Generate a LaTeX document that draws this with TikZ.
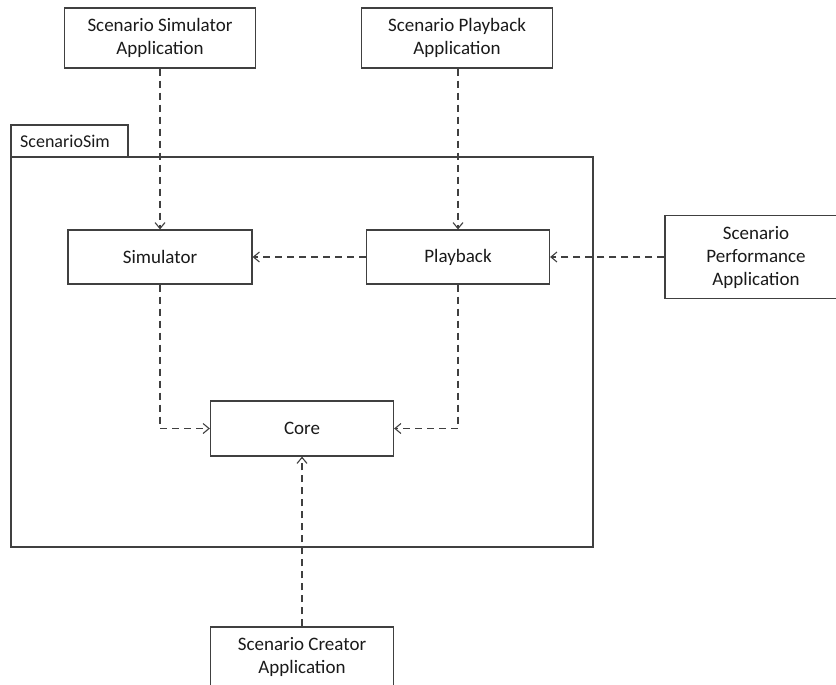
\documentclass[tikz,border=0pt]{standalone}
\usepackage{fontspec}
\setmainfont{Carlito}
\usetikzlibrary{arrows.meta}
\definecolor{edge}{HTML}{404040}
\definecolor{ink}{HTML}{1A1A1A}
\tikzset{
  box/.style={draw=edge, line width=1.2pt, fill=white, align=center,
    inner sep=0pt, text=ink, font=\fontsize{19}{23}\selectfont},
  dep/.style={draw=edge, line width=1.3pt, dash pattern=on 7pt off 5pt,
    -{Straight Barb[length=6pt,width=10pt,line width=1.1pt]}},
  frame/.style={draw=edge, line width=1.2pt}
}
\begin{document}
\begin{tikzpicture}[x=1pt,y=-1pt]
\useasboundingbox (0,0) rectangle (836,685);
\clip (0,0) rectangle (836,685);

% package ScenarioSim
\draw[frame] (11,157) rectangle (593,547);
\draw[frame] (11,157) rectangle (128,125);
\node[anchor=west, inner sep=0pt, text=ink, font=\fontsize{18}{20}\selectfont]
  (tab) at (20,141.5) {ScenarioSim};

% components inside the package
\node[box, minimum width=184pt, minimum height=54pt] (sim) at (160,257) {Simulator};
\node[box, minimum width=183pt, minimum height=54pt] (pb) at (458,257) {Playback};
\node[box, minimum width=183pt, minimum height=55pt] (core) at (302,428.5) {Core};

% applications outside the package
\node[box, minimum width=191pt, minimum height=60pt] (ssa) at (160,38) {Scenario Simulator\\Application};
\node[box, minimum width=191pt, minimum height=60pt] (spa) at (457,38) {Scenario Playback\\Application};
\node[box, minimum width=182pt, minimum height=83pt] (perf) at (756,257) {Scenario\\Performance\\Application};
\node[box, minimum width=183pt, minimum height=59pt] (creator) at (302,656.5) {Scenario Creator\\Application};

% dependencies
\draw[dep] (ssa.south -| sim.north) -- (sim.north);
\draw[dep] (spa.south -| pb.north) -- (pb.north);
\draw[dep] (pb.west) -- (sim.east);
\draw[dep] (perf.west) -- (pb.east);
\draw[dep] (sim.south) |- (core.west);
\draw[dep] (pb.south) |- (core.east);
\draw[dep] (creator.north) -- (core.south);
\end{tikzpicture}
\end{document}
